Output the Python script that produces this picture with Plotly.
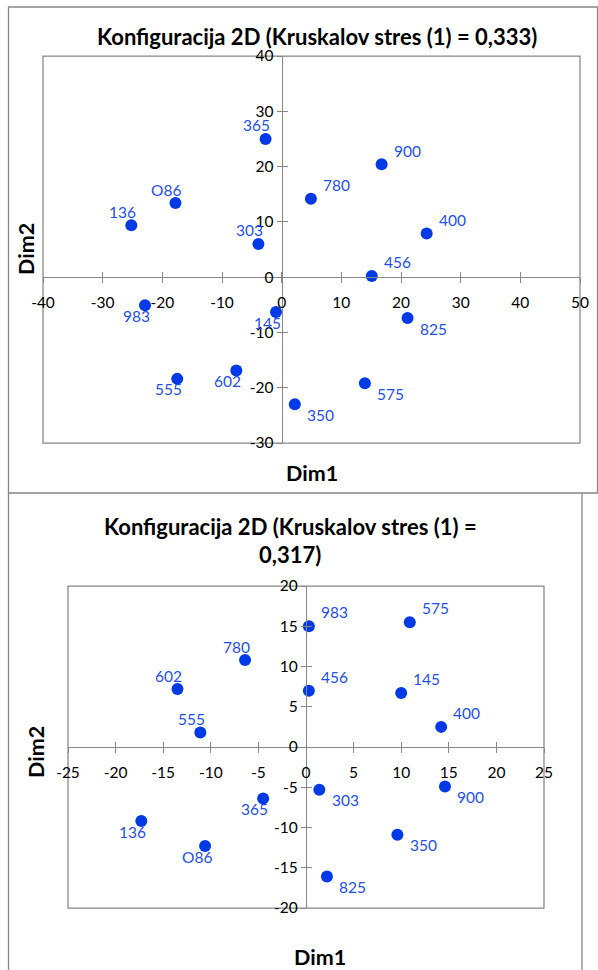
import plotly.graph_objects as go

W, H = 598, 970

# ---------------- data ----------------
top_title = "Konfiguracija 2D (Kruskalov stres (1) = 0,333)"
top_labels = ["365", "O86", "136", "303", "900", "780", "400", "456",
              "983", "145", "825", "555", "602", "575", "350"]
top_dim1 = [-2.7, -17.8, -25.2, -3.9, 16.75, 4.9, 24.3, 15.1,
            -22.9, -0.95, 21.1, -17.5, -7.6, 13.95, 2.2]
top_dim2 = [25.0, 13.4, 9.4, 6.0, 20.4, 14.2, 7.9, 0.2,
            -5.1, -6.3, -7.4, -18.4, -16.9, -19.2, -23.0]
top_xticks = [-40, -30, -20, -10, 0, 10, 20, 30, 40, 50]
top_yticks = [-30, -20, -10, 0, 10, 20, 30, 40]

bot_title_lines = ["Konfiguracija 2D (Kruskalov stres (1) =", "0,317)"]
bot_labels = ["983", "575", "780", "602", "456", "145", "555", "400",
              "303", "900", "365", "136", "O86", "350", "825"]
bot_dim1 = [0.3, 10.9, -6.4, -13.5, 0.3, 10.0, -11.1, 14.2,
            1.4, 14.6, -4.5, -17.3, -10.6, 9.6, 2.2]
bot_dim2 = [15.0, 15.5, 10.8, 7.2, 7.0, 6.7, 1.8, 2.5,
            -5.3, -4.9, -6.4, -9.2, -12.3, -10.9, -16.1]
bot_xticks = [-25, -20, -15, -10, -5, 0, 5, 10, 15, 20, 25]
bot_yticks = [-20, -15, -10, -5, 0, 5, 10, 15, 20]

x_title = "Dim1"
y_title = "Dim2"

# ---------------- style ----------------
FONT = "Lato, 'Open Sans', sans-serif"
GRAY = "#878787"
MARKER = "#0039E6"
LABEL = "#1F4FEA"
TICK_SIZE = 15.5
TITLE_SIZE = 22
AXTITLE_SIZE = 21.5

# data-label placement (style only): tl / tr / bl / br
top_place = {"365": "tl", "O86": "tl", "136": "tl", "303": "tl",
             "900": "tr", "780": "tr", "400": "tr", "456": "tr",
             "983": "bl", "145": "bl", "555": "bl", "602": "bl",
             "825": "br", "575": "br", "350": "br"}
bot_place = {"780": "tl", "602": "tl", "555": "tl",
             "983": "tr", "575": "tr", "456": "tr", "145": "tr", "400": "tr",
             "365": "bl", "136": "bl", "O86": "bl",
             "303": "br", "900": "br", "350": "br", "825": "br"}
OFFS = {"tl": (-9, 13.5), "tr": (25.5, 13.8), "bl": (-8.5, -10.6), "br": (25.8, -10.6)}


def px_x(v):
    return v / W


def px_y(v):
    return 1 - v / H


def tick_text(vals):
    return [str(v) for v in vals]  # plain hyphen-minus, as in Excel


fig = go.Figure()
annotations = []
shapes = []
layout = {}


def panel(idx, ov_idx, xr, yr, xt, yt, dom_x, dom_y, xs, ys, labels, place):
    xname = "x" if idx == 1 else f"x{idx}"
    yname = "y" if idx == 1 else f"y{idx}"
    xo, yo = f"x{ov_idx}", f"y{ov_idx}"
    xpos0 = dom_x[0] + (0 - xr[0]) / (xr[1] - xr[0]) * (dom_x[1] - dom_x[0])
    ypos0 = dom_y[0] + (0 - yr[0]) / (yr[1] - yr[0]) * (dom_y[1] - dom_y[0])
    common = dict(showgrid=False, zeroline=False, fixedrange=True, automargin=False)
    tickfont = dict(family=FONT, size=TICK_SIZE, color="black")
    layout["xaxis" if idx == 1 else f"xaxis{idx}"] = dict(
        domain=dom_x, range=xr, tickmode="array", tickvals=xt, ticktext=tick_text(xt),
        anchor="free", position=ypos0,
        showline=True, linecolor=GRAY, linewidth=1.25,
        ticks="outside", ticklen=5, tickwidth=1.25, tickcolor=GRAY,
        ticklabelstandoff=6, tickfont=tickfont, **common)
    layout["yaxis" if idx == 1 else f"yaxis{idx}"] = dict(
        domain=dom_y, range=yr, tickmode="array", tickvals=yt, ticktext=tick_text(yt),
        anchor="free", position=xpos0,
        showline=True, linecolor=GRAY, linewidth=1.25,
        ticks="outside", ticklen=5, tickwidth=1.25, tickcolor=GRAY,
        tickfont=tickfont, **common)
    layout[f"xaxis{ov_idx}"] = dict(
        overlaying=xname, range=xr, tickmode="array", tickvals=xt,
        anchor="free", position=ypos0,
        showline=False, ticks="inside", ticklen=5, tickwidth=1.25, tickcolor=GRAY,
        showticklabels=False, **common)
    layout[f"yaxis{ov_idx}"] = dict(
        overlaying=yname, range=yr, tickmode="array", tickvals=yt,
        anchor="free", position=xpos0,
        showline=False, ticks="inside", ticklen=5, tickwidth=1.25, tickcolor=GRAY,
        showticklabels=False, **common)
    fig.add_trace(go.Scatter(x=[], y=[], xaxis=xo, yaxis=yo, showlegend=False,
                             hoverinfo="skip"))
    fig.add_trace(go.Scatter(x=xs, y=ys, mode="markers", xaxis=xname, yaxis=yname,
                             marker=dict(size=12, color=MARKER), showlegend=False,
                             cliponaxis=False))
    for lab, xv, yv in zip(labels, xs, ys):
        dx, dy = OFFS[place[lab]]
        annotations.append(dict(x=xv, y=yv, xref=xname, yref=yname, text=lab,
                                showarrow=False, xshift=dx, yshift=dy,
                                xanchor="center", yanchor="middle",
                                font=dict(family=FONT, size=TICK_SIZE, color=LABEL)))
    shapes.append(dict(type="rect", xref=f"{xname} domain", yref=f"{yname} domain",
                       x0=0, x1=1, y0=0, y1=1, line=dict(color=GRAY, width=1.25),
                       layer="below"))


panel(1, 3, [-40, 50], [-30, 40], top_xticks, top_yticks,
      [px_x(43), px_x(580)], [px_y(443), px_y(56)],
      top_dim1, top_dim2, top_labels, top_place)
panel(2, 4, [-25, 25], [-20, 20], bot_xticks, bot_yticks,
      [px_x(68), px_x(544)], [px_y(908), px_y(586)],
      bot_dim1, bot_dim2, bot_labels, bot_place)

# outer chart borders
shapes.append(dict(type="rect", xref="paper", yref="paper",
                   x0=px_x(8.5), x1=px_x(597.5), y0=px_y(493), y1=px_y(7),
                   line=dict(color=GRAY, width=1.3), layer="below"))
shapes.append(dict(type="line", xref="paper", yref="paper",
                   x0=px_x(8.5), x1=px_x(8.5), y0=0, y1=px_y(493),
                   line=dict(color=GRAY, width=1.3), layer="below"))
shapes.append(dict(type="line", xref="paper", yref="paper",
                   x0=px_x(582), x1=px_x(582), y0=0, y1=px_y(493),
                   line=dict(color=GRAY, width=1.3), layer="below"))


def txt(text, x, y, size, angle=0):
    annotations.append(dict(text=f"<b>{text}</b>", x=px_x(x), y=px_y(y), xref="paper",
                            yref="paper", showarrow=False, xanchor="center",
                            yanchor="middle", textangle=angle,
                            font=dict(family=FONT, size=size, color="black")))


txt(top_title, 317, 37, TITLE_SIZE)
txt(bot_title_lines[0], 290, 526, TITLE_SIZE)
txt(bot_title_lines[1], 290, 554, TITLE_SIZE)
txt(x_title, 311.5, 473, AXTITLE_SIZE)
txt(y_title, 26, 249, AXTITLE_SIZE, angle=-90)
txt(x_title, 320, 957, AXTITLE_SIZE)
txt(y_title, 36, 752, AXTITLE_SIZE, angle=-90)

fig.update_layout(width=W, height=H,
                  margin=dict(l=0, r=0, t=0, b=0, pad=0, autoexpand=False),
                  paper_bgcolor="white", plot_bgcolor="white",
                  annotations=annotations, shapes=shapes, **layout)

fig.write_html("out.html", config={"responsive": False, "displayModeBar": False},
               post_script="document.body.style.margin='0';"
                           "document.body.style.overflow='hidden';")
